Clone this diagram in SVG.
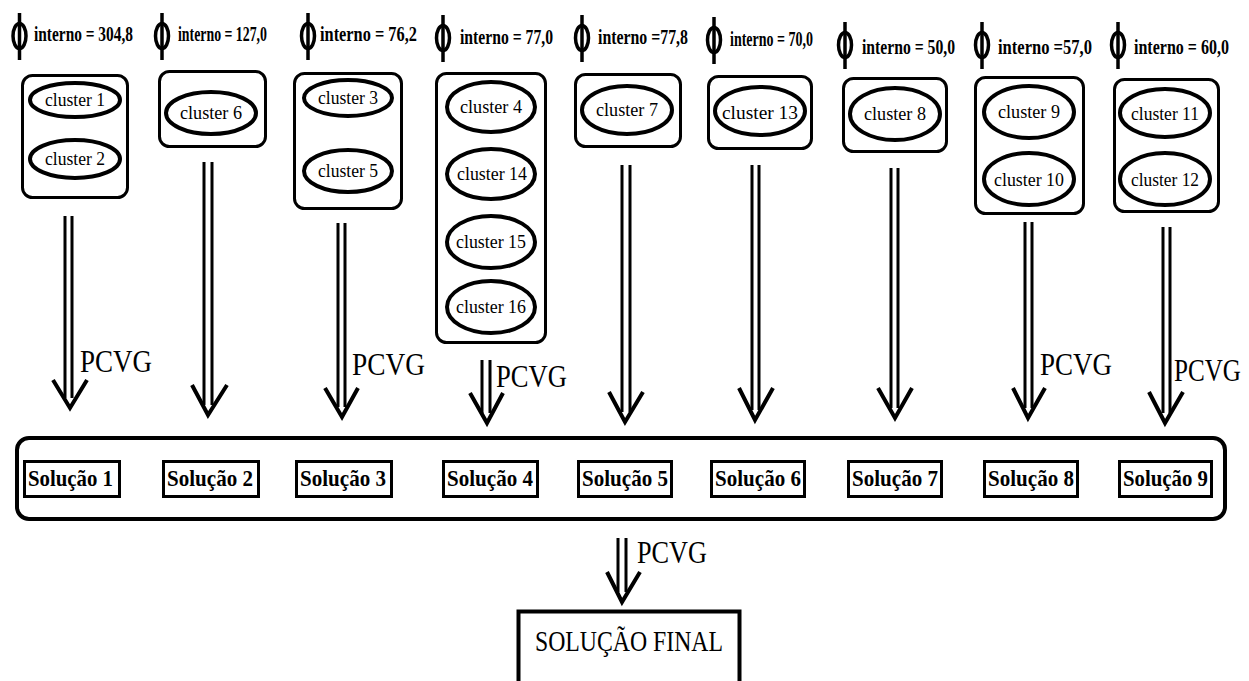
<svg xmlns="http://www.w3.org/2000/svg" width="1249" height="681" viewBox="0 0 1249 681">
<style>
.bg{fill:#fff}
.box{fill:none;stroke:#000;stroke-width:3}
.ell{fill:#fff;stroke:#000;stroke-width:4}
.phi{fill:none;stroke:#000;stroke-width:3.5}
.hdr{font-family:"Liberation Serif",serif;font-weight:bold;font-size:20px;fill:#000}
.cl{font-family:"Liberation Serif",serif;font-size:19px;fill:#000;text-anchor:middle}
.lbl{font-family:"Liberation Serif",serif;font-size:31px;fill:#000}
.sol{font-family:"Liberation Serif",serif;font-weight:bold;font-size:23px;fill:#000}
.fin{font-family:"Liberation Serif",serif;font-size:30px;fill:#000}
.shaft{stroke:#000;stroke-width:3;fill:none}
.head{stroke:#000;stroke-width:4;fill:none;stroke-linejoin:miter}
.sbox{fill:#fff;stroke:#000;stroke-width:3}
</style>
<defs>
<g id="phisym"><line x1="0" y1="-23" x2="0" y2="24" class="phi"/><ellipse cx="0" cy="0" rx="6.5" ry="12.5" class="phi"/></g>
</defs>
<rect class="bg" x="0" y="0" width="1249" height="681"/>

<g id="col1">
<use href="#phisym" x="19.5" y="36"/>
<text class="hdr" x="34" y="41" textLength="99" lengthAdjust="spacingAndGlyphs">interno = 304,8</text>
<rect class="box" x="22.5" y="75.5" width="105" height="122" rx="10"/>
<ellipse class="ell" cx="75" cy="100" rx="45" ry="17"/><text class="cl" x="75" y="106" textLength="60" lengthAdjust="spacingAndGlyphs">cluster 1</text>
<ellipse class="ell" cx="75" cy="159" rx="45" ry="19"/><text class="cl" x="75" y="165" textLength="60" lengthAdjust="spacingAndGlyphs">cluster 2</text>
</g>
<g id="col2">
<use href="#phisym" x="162" y="36"/>
<text class="hdr" x="178" y="41" textLength="89" lengthAdjust="spacingAndGlyphs">interno = 127,0</text>
<rect class="box" x="159.5" y="71.5" width="106" height="75" rx="10"/>
<ellipse class="ell" cx="211" cy="113" rx="45" ry="21"/><text class="cl" x="211" y="119" textLength="62" lengthAdjust="spacingAndGlyphs">cluster 6</text>
</g>
<g id="col3">
<use href="#phisym" x="308" y="36"/>
<text class="hdr" x="320" y="41" textLength="97" lengthAdjust="spacingAndGlyphs">interno = 76,2</text>
<rect class="box" x="294.5" y="73.5" width="107" height="135" rx="10"/>
<ellipse class="ell" cx="348" cy="98" rx="44" ry="18"/><text class="cl" x="348" y="104" textLength="60" lengthAdjust="spacingAndGlyphs">cluster 3</text>
<ellipse class="ell" cx="348" cy="171" rx="44" ry="21"/><text class="cl" x="348" y="177" textLength="60" lengthAdjust="spacingAndGlyphs">cluster 5</text>
</g>
<g id="col4">
<use href="#phisym" x="443" y="38"/>
<text class="hdr" x="460" y="44" textLength="93" lengthAdjust="spacingAndGlyphs">interno =  77,0</text>
<rect class="box" x="436.5" y="73.5" width="109" height="269" rx="10"/>
<ellipse class="ell" cx="491" cy="107" rx="44" ry="25"/><text class="cl" x="491" y="113" textLength="62" lengthAdjust="spacingAndGlyphs">cluster 4</text>
<ellipse class="ell" cx="491" cy="174" rx="44" ry="25"/><text class="cl" x="492" y="180" textLength="70" lengthAdjust="spacingAndGlyphs">cluster 14</text>
<ellipse class="ell" cx="491" cy="242" rx="44" ry="26"/><text class="cl" x="491" y="248" textLength="70" lengthAdjust="spacingAndGlyphs">cluster 15</text>
<ellipse class="ell" cx="491" cy="307" rx="44" ry="26"/><text class="cl" x="491" y="313" textLength="70" lengthAdjust="spacingAndGlyphs">cluster 16</text>
</g>
<g id="col5">
<use href="#phisym" x="582" y="38"/>
<text class="hdr" x="598" y="44" textLength="90" lengthAdjust="spacingAndGlyphs">interno =77,8</text>
<rect class="box" x="575.5" y="74.5" width="105" height="72" rx="10"/>
<ellipse class="ell" cx="627" cy="110" rx="45" ry="24"/><text class="cl" x="627" y="116" textLength="62" lengthAdjust="spacingAndGlyphs">cluster 7</text>
</g>
<g id="col6">
<use href="#phisym" x="714" y="40"/>
<text class="hdr" x="730" y="46" textLength="83" lengthAdjust="spacingAndGlyphs">interno = 70,0</text>
<rect class="box" x="708.5" y="76.5" width="103" height="72" rx="10"/>
<ellipse class="ell" cx="760" cy="111" rx="45" ry="24"/><text class="cl" x="760" y="119" textLength="76" lengthAdjust="spacingAndGlyphs">cluster 13</text>
</g>
<g id="col7">
<use href="#phisym" x="845" y="45"/>
<text class="hdr" x="862" y="54" textLength="93" lengthAdjust="spacingAndGlyphs">interno = 50,0</text>
<rect class="box" x="843.5" y="78.5" width="103" height="73" rx="10"/>
<ellipse class="ell" cx="895" cy="114" rx="45" ry="26"/><text class="cl" x="895" y="120" textLength="62" lengthAdjust="spacingAndGlyphs">cluster 8</text>
</g>
<g id="col8">
<use href="#phisym" x="982" y="45"/>
<text class="hdr" x="998" y="54" textLength="94" lengthAdjust="spacingAndGlyphs">interno =57,0</text>
<rect class="box" x="975.5" y="77.5" width="108" height="136" rx="10"/>
<ellipse class="ell" cx="1029" cy="112" rx="45" ry="26"/><text class="cl" x="1029" y="118" textLength="62" lengthAdjust="spacingAndGlyphs">cluster 9</text>
<ellipse class="ell" cx="1029" cy="179" rx="45" ry="26"/><text class="cl" x="1029" y="186" textLength="70" lengthAdjust="spacingAndGlyphs">cluster 10</text>
</g>
<g id="col9">
<use href="#phisym" x="1118" y="45"/>
<text class="hdr" x="1134" y="54" textLength="95" lengthAdjust="spacingAndGlyphs">interno = 60,0</text>
<rect class="box" x="1114.5" y="79.5" width="104" height="132" rx="10"/>
<ellipse class="ell" cx="1165" cy="113" rx="45" ry="24"/><text class="cl" x="1165" y="120" textLength="68" lengthAdjust="spacingAndGlyphs">cluster 11</text>
<ellipse class="ell" cx="1165" cy="179" rx="45" ry="26"/><text class="cl" x="1165" y="186" textLength="68" lengthAdjust="spacingAndGlyphs">cluster 12</text>
</g>

<g id="connectors">
<path class="shaft" d="M65 216V398M72 216V398"/><path class="head" d="M53 380L70 408L87 380"/>
<path class="shaft" d="M204 162V405M212 162V405"/><path class="head" d="M192 385L208 415L227 385"/>
<path class="shaft" d="M338 223V407M345 223V407"/><path class="head" d="M325 388L342 417L358 388"/>
<path class="shaft" d="M482 360V413M490 360V413"/><path class="head" d="M470 393L487 423L503 393"/>
<path class="shaft" d="M622 165V412M630 165V412"/><path class="head" d="M609 392L625 422L643 392"/>
<path class="shaft" d="M752 165V410M759 165V410"/><path class="head" d="M739 388L755 420L773 388"/>
<path class="shaft" d="M891 168V408M898 168V408"/><path class="head" d="M878 388L895 418L912 388"/>
<path class="shaft" d="M1025 222V408M1032 222V408"/><path class="head" d="M1013 388L1028 418L1045 388"/>
<path class="shaft" d="M1163 227V413M1170 227V413"/><path class="head" d="M1149 392L1165 423L1183 392"/>
<path class="shaft" d="M618 538V592M626 538V592"/><path class="head" d="M607 572L622 602L640 572"/>
<text class="lbl" x="80" y="372" textLength="72" lengthAdjust="spacingAndGlyphs">PCVG</text>
<text class="lbl" x="352" y="375" textLength="73" lengthAdjust="spacingAndGlyphs">PCVG</text>
<text class="lbl" x="496" y="387" textLength="71" lengthAdjust="spacingAndGlyphs">PCVG</text>
<text class="lbl" x="1040" y="375" textLength="72" lengthAdjust="spacingAndGlyphs">PCVG</text>
<text class="lbl" x="1174" y="381" textLength="67" lengthAdjust="spacingAndGlyphs">PCVG</text>
<text class="lbl" x="637" y="563" font-size="28" textLength="70" lengthAdjust="spacingAndGlyphs">PCVG</text>
</g>

<g id="solutions">
<rect class="box" x="17" y="438" width="1208" height="81" rx="12" style="stroke-width:4"/>
<rect class="sbox" x="24.5" y="461.5" width="95" height="35"/><text class="sol" x="28" y="486" textLength="85" lengthAdjust="spacingAndGlyphs">Solução 1</text>
<rect class="sbox" x="163.5" y="461.5" width="95" height="35"/><text class="sol" x="167" y="486" textLength="86" lengthAdjust="spacingAndGlyphs">Solução 2</text>
<rect class="sbox" x="296.5" y="461.5" width="95" height="35"/><text class="sol" x="300" y="486" textLength="86" lengthAdjust="spacingAndGlyphs">Solução 3</text>
<rect class="sbox" x="443.5" y="461.5" width="94" height="35"/><text class="sol" x="447" y="486" textLength="86" lengthAdjust="spacingAndGlyphs">Solução 4</text>
<rect class="sbox" x="578.5" y="461.5" width="93" height="35"/><text class="sol" x="582" y="486" textLength="86" lengthAdjust="spacingAndGlyphs">Solução 5</text>
<rect class="sbox" x="711.5" y="461.5" width="93" height="35"/><text class="sol" x="715" y="486" textLength="86" lengthAdjust="spacingAndGlyphs">Solução 6</text>
<rect class="sbox" x="848.5" y="461.5" width="93" height="35"/><text class="sol" x="852" y="486" textLength="86" lengthAdjust="spacingAndGlyphs">Solução 7</text>
<rect class="sbox" x="984.5" y="461.5" width="93" height="35"/><text class="sol" x="988" y="486" textLength="86" lengthAdjust="spacingAndGlyphs">Solução 8</text>
<rect class="sbox" x="1119.5" y="461.5" width="92" height="35"/><text class="sol" x="1123" y="486" textLength="85" lengthAdjust="spacingAndGlyphs">Solução 9</text>
</g>

<g id="final">
<rect class="sbox" x="518.5" y="611.5" width="221" height="80" style="stroke-width:4"/>
<text class="fin" x="535" y="651" textLength="188" lengthAdjust="spacingAndGlyphs">SOLUÇÃO FINAL</text>
</g>
</svg>
